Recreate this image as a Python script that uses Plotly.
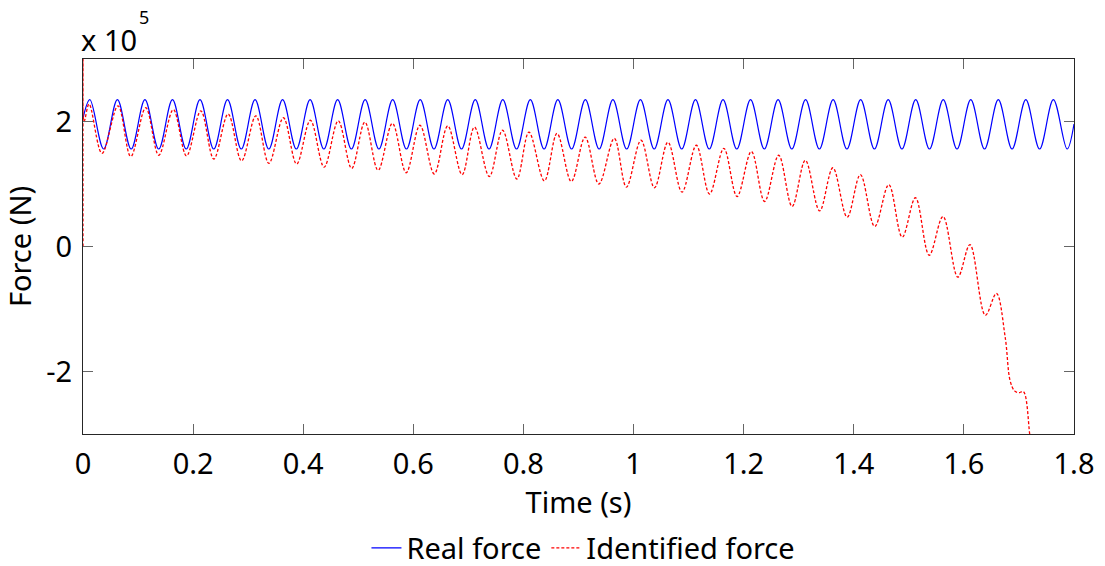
import plotly.graph_objects as go

# Real force: time (s) and value (x1e5 N) at start, extrema and end
real_t = [0, 0.0125, 0.0375, 0.0625, 0.0875, 0.1125, 0.1375, 0.1625, 0.1875, 0.2125, 0.2375,
          0.2625, 0.2875, 0.3125, 0.3375, 0.3625, 0.3875, 0.4125, 0.4375, 0.4625, 0.4875,
          0.5125, 0.5375, 0.5625, 0.5875, 0.6125, 0.6375, 0.6625, 0.6875, 0.7125, 0.7375,
          0.7625, 0.7875, 0.8125, 0.8375, 0.8625, 0.8875, 0.9125, 0.9375, 0.9625, 0.9875,
          1.0125, 1.0375, 1.0625, 1.0875, 1.1125, 1.1375, 1.1625, 1.1875, 1.2125, 1.2375,
          1.2625, 1.2875, 1.3125, 1.3375, 1.3625, 1.3875, 1.4125, 1.4375, 1.4625, 1.4875,
          1.5125, 1.5375, 1.5625, 1.5875, 1.6125, 1.6375, 1.6625, 1.6875, 1.7125, 1.7375,
          1.7625, 1.7875, 1.8]
real_f = [2.05,
          2.35, 1.56, 2.35, 1.56, 2.35, 1.56, 2.35, 1.56, 2.35, 1.56,
          2.35, 1.56, 2.35, 1.56, 2.35, 1.56, 2.35, 1.56, 2.35, 1.56,
          2.35, 1.56, 2.35, 1.56, 2.35, 1.56, 2.35, 1.56, 2.35, 1.56,
          2.35, 1.56, 2.35, 1.56, 2.35, 1.56, 2.35, 1.56, 2.35, 1.56,
          2.35, 1.56, 2.35, 1.56, 2.35, 1.56, 2.35, 1.56, 2.35, 1.56,
          2.35, 1.56, 2.35, 1.56, 2.35, 1.56, 2.35, 1.56, 2.35, 1.56,
          2.35, 1.56, 2.35, 1.56, 2.35, 1.56, 2.35, 1.56, 2.35, 1.56,
          2.35, 1.56,
          1.96]

# Identified force: time (s) and value (x1e5 N) read at extrema
ident_t = [0, 0.0004, 0.002, 0.011, 0.0345, 0.0636, 0.0867, 0.114, 0.1376, 0.164, 0.188,
           0.214, 0.2376, 0.2636, 0.288, 0.314, 0.3376, 0.364, 0.388, 0.413, 0.438,
           0.4636, 0.488, 0.512, 0.536, 0.562, 0.587, 0.612, 0.638, 0.6625, 0.6886,
           0.711, 0.738, 0.762, 0.788, 0.810, 0.838, 0.861, 0.887, 0.912, 0.937,
           0.965, 0.987, 1.0135, 1.038, 1.0625, 1.088, 1.114, 1.138, 1.164, 1.188,
           1.214, 1.238, 1.2636, 1.288, 1.312, 1.338, 1.362, 1.388, 1.412, 1.438,
           1.4636, 1.488, 1.512, 1.537, 1.562, 1.589, 1.611, 1.639, 1.659, 1.675,
           1.684, 1.692, 1.700, 1.708, 1.7195, 1.725]
ident_f = [0, 3.6, 2.0, 2.28, 1.49, 2.25, 1.44, 2.22, 1.46, 2.19, 1.45,
           2.17, 1.40, 2.12, 1.37, 2.09, 1.33, 2.06, 1.32, 2.02, 1.27,
           2.01, 1.25, 1.99, 1.22, 1.97, 1.18, 1.94, 1.16, 1.93, 1.15,
           1.91, 1.12, 1.86, 1.08, 1.83, 1.05, 1.81, 1.04, 1.75, 1.00,
           1.73, 0.95, 1.70, 0.94, 1.67, 0.87, 1.62, 0.84, 1.57, 0.80,
           1.52, 0.72, 1.46, 0.64, 1.38, 0.57, 1.26, 0.47, 1.15, 0.32,
           0.99, 0.15, 0.78, -0.14, 0.48, -0.49, 0.03, -1.10, -0.75, -1.45,
           -2.15, -2.31, -2.34, -2.32, -3.0, -3.5]

x_ticks = [0, 0.2, 0.4, 0.6, 0.8, 1.0, 1.2, 1.4, 1.6, 1.8]
x_tick_text = ["0", "0.2", "0.4", "0.6", "0.8", "1", "1.2", "1.4", "1.6", "1.8"]
y_ticks = [-2, 0, 2]
y_tick_text = ["-2", "0", "2"]

FONT = "Noto Sans"

fig = go.Figure()
fig.add_trace(go.Scatter(x=real_t, y=real_f, mode="lines", name="Real force",
                         line=dict(color="#0000ff", width=1.2, shape="spline", smoothing=1.0)))
fig.add_trace(go.Scatter(x=ident_t, y=ident_f, mode="lines", name="Identified force",
                         line=dict(color="#ff0000", width=1.3, dash="3px,2px",
                                   shape="spline", smoothing=1.0)))

axis_common = dict(showline=True, linecolor="#262626", linewidth=1.2, mirror="ticks",
                   ticks="inside", ticklen=10, tickcolor="#666666", tickwidth=1.2,
                   showgrid=False, zeroline=False,
                   tickfont=dict(family=FONT, size=29, color="#000000"))

fig.update_layout(
    width=1105, height=566,
    margin=dict(l=83, r=31, t=59, b=132, autoexpand=False),
    paper_bgcolor="white", plot_bgcolor="white",
    font=dict(family=FONT, size=29, color="#000000"),
    xaxis=dict(range=[0, 1.8], tickvals=x_ticks, ticktext=x_tick_text,
               title=dict(text="Time (s)", font=dict(family=FONT, size=29), standoff=4),
               ticklabelstandoff=4, **axis_common),
    yaxis=dict(range=[-3, 3], tickvals=y_ticks, ticktext=y_tick_text,
               title=dict(text="Force (N)", font=dict(family=FONT, size=29), standoff=14),
               ticklabelstandoff=4, **axis_common),
    legend=dict(orientation="h", x=0.505, xanchor="center", y=-0.304, yanchor="middle",
                font=dict(family=FONT, size=29), bgcolor="rgba(0,0,0,0)",
                itemwidth=30, tracegroupgap=0),
    showlegend=True,
)

fig.add_annotation(text="x 10", xref="paper", yref="paper", x=0, y=1,
                   xanchor="left", yanchor="bottom", showarrow=False, xshift=-4, yshift=-2,
                   font=dict(family=FONT, size=29, color="#000000"))
fig.add_annotation(text="5", xref="paper", yref="paper", x=0, y=1,
                   xanchor="left", yanchor="bottom", showarrow=False, xshift=54, yshift=28,
                   font=dict(family=FONT, size=18, color="#000000"))

fig.write_html("out.html")
